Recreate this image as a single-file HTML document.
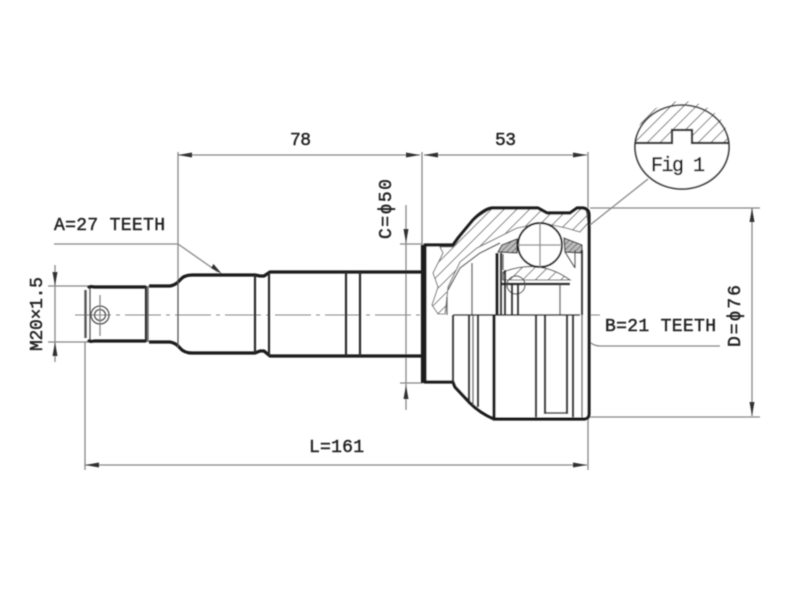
<!DOCTYPE html>
<html><head><meta charset="utf-8"><style>
html,body{margin:0;padding:0;background:#fff;width:800px;height:600px;overflow:hidden}
svg{display:block}
text{font-family:"Liberation Mono",monospace;fill:#222;stroke:#222;stroke-width:.45px;font-size:18px}
.t{stroke:#888;stroke-width:1.3;fill:none}
.k{stroke:#1c1c1c;stroke-width:3.2;fill:none}
.m{stroke:#2c2c2c;stroke-width:2.2;fill:none}
.n{stroke:#555;stroke-width:1.3;fill:none}
</style></head><body>
<svg width="800" height="600" viewBox="0 0 800 600" xmlns="http://www.w3.org/2000/svg">
<defs>
<pattern id="h" width="9" height="9" patternUnits="userSpaceOnUse" patternTransform="rotate(45)"><rect width="9" height="9" fill="#fff"/><line x1="0" y1="0" x2="0" y2="9" stroke="#666" stroke-width="1.8"/></pattern>
<pattern id="h2" width="4" height="4" patternUnits="userSpaceOnUse" patternTransform="rotate(45)"><rect width="4" height="4" fill="#bbb"/><line x1="0" y1="0" x2="0" y2="4" stroke="#555" stroke-width="1.4"/></pattern>
<filter id="b"><feGaussianBlur stdDeviation="0.5"/></filter>
</defs>
<g filter="url(#b)">
<!-- extension lines -->
<path class="t" d="M178 152V285M422 152V245M588 152V208M85 342V470M588 417V470M590 208H760M590 417H760M400 244H423M400 383H423M48 286H92M48 342H92M54 244H178L218 272M533 288L587 340Q593 346 600 346H720"/>
<!-- centre line -->
<path d="M75 315H600" stroke="#888" stroke-width="1.1" stroke-dasharray="36 5 4 5" fill="none"/>
<!-- dimensions -->
<path class="t" d="M178 155H420M424 155H587M85 465H587M752 208V416M406 205V410M55 265V362"/>
<g fill="#333">
<path d="M178 155l14-2.5v5zM420 155l-14-2.5v5zM424 155l14-2.5v5zM587 155l-14-2.5v5zM85 465l14-2.5v5zM587 465l-14-2.5v5zM752 208l-2.5 14h5zM752 416l-2.5-14h5zM406 243l-2.5-14h5zM406 385l-2.5 14h5zM55 286l-2.5-14h5zM55 342l-2.5 14h5zM222 274l-11-6 2.5-4zM533 288l13 9-3 3z"/>
</g>
<!-- shaft -->
<g class="k" stroke-linejoin="round">
<path d="M88 288Q90 286 94 287H146M88 340Q90 342 94 341H146"/>
<path d="M149 286H170Q176 285 180 280Q184 275 192 275H255L260 276H264L270 272H422"/>
<path d="M149 342H170Q176 343 180 348Q184 353 192 353H255L260 351H264L270 356H422"/>
</g>
<path d="M85.5 290V338" stroke="#555" stroke-width="2.4" fill="none"/>
<path class="n" d="M90 288V340"/>
<path class="m" d="M146 286V342M255 275V353M269 273V356M346 272V356M360 272V356"/>
<path class="n" d="M148 286V342M178 281V347"/>
<circle cx="100" cy="315" r="9" class="n"/>
<circle cx="100" cy="315" r="5.5" class="n"/>
<path class="t" d="M100 295V336"/>
<!-- joint body -->
<path d="M423 246H453L473 220Q480 212 490 208H538L547 213H570L577 208H585L589 215V416L587 417H493L470 403L455 387L453 383H423Z" fill="#fff"/>
<!-- hatched housing section -->
<path d="M440 247H453L473 220L490 209H538L547 214H570L577 209H586L588 223L580 232L566 228L543 223L517 228L497 238L477 248L460 262L448 287L447 297L445 314H438L432 305L438 287L433 273L443 253Z" fill="url(#h)" stroke="#777" stroke-width="1.1"/>
<path class="n" d="M448 290L460 268L480 253L500 243"/>
<!-- bearing races -->
<path d="M498 252L502 245L517 239V253ZM564 238L582 245V253L565 252Z" fill="url(#h2)" stroke="#333" stroke-width="1.2"/>
<path d="M503 272Q540 258 570 280H503Z" fill="url(#h)" stroke="#555" stroke-width="1.1"/>
<circle cx="540" cy="245" r="22" fill="#fff" stroke="#222" stroke-width="2"/>
<path class="t" d="M540 223V267M518 245H562"/>
<path stroke="#222" stroke-width="2.6" fill="none" d="M502 284H570"/>
<circle cx="516" cy="285" r="9" fill="none" stroke="#555" stroke-width="1.2"/>
<path class="m" d="M512 284V315M518 284V315"/>
<path class="k" d="M497 253V315"/>
<path class="m" d="M501 253V315M505 270V315M582 250V315"/>
<path class="n" d="M447 297V315M472 263V315M560 284V315M575 250V268"/>
<path class="n" d="M565 252L575 268M503 254V270"/>
<!-- outline -->
<path class="k" stroke-linejoin="round" d="M453 245H425V382H453L455 387L470 403Q480 413 494 419H585Q589 418 589 414V215Q589 209 583 208H577L570 213H547L538 208H492Q484 209 473 220L458 238Z"/>
<path d="M423 245V383" stroke="#1c1c1c" stroke-width="4.2" fill="none"/>
<!-- mid line, lower half verticals -->
<path d="M453 315H580" stroke="#333" stroke-width="1.6" fill="none"/>
<path class="m" d="M453 315V383M469 315V402M478 315V407M536 315V417M545 315V414M567 315V414M573 315V417"/>
<path class="k" d="M494 315V419"/>
<path class="n" d="M473 315V405M582 315V417"/>
<path stroke="#333" stroke-width="1.4" fill="none" d="M545 413H567"/>
<!-- fig 1 -->
<ellipse cx="682" cy="147" rx="47" ry="42" fill="#fff"/>
<path d="M635 143A47 42 0 0 1 729 143H692V130H672V143Z" fill="url(#h)"/>
<ellipse cx="682" cy="147" rx="47" ry="42" fill="none" stroke="#444" stroke-width="1.8"/>
<path class="m" d="M635 143H672V130H692V143H729"/>
<path class="t" d="M648 179L590 225"/>
<!-- text -->
<text x="54" y="230" textLength="111" lengthAdjust="spacing">A=27 TEETH</text>
<text x="290" y="145" textLength="21" lengthAdjust="spacing">78</text>
<text x="495" y="145" textLength="21" lengthAdjust="spacing">53</text>
<text x="651" y="171" textLength="54" lengthAdjust="spacing" style="font-size:20px">Fig 1</text>
<text x="605" y="331" textLength="111" lengthAdjust="spacing">B=21 TEETH</text>
<text x="309" y="452" textLength="55" lengthAdjust="spacing">L=161</text>
<text transform="translate(391 239) rotate(-90)" textLength="60" lengthAdjust="spacing">C=ϕ50</text>
<text transform="translate(740 347) rotate(-90)" textLength="62" lengthAdjust="spacing">D=ϕ76</text>
<text transform="translate(42 351) rotate(-90)" textLength="74" lengthAdjust="spacing">M20×1.5</text>
</g>
</svg>
</body></html>
